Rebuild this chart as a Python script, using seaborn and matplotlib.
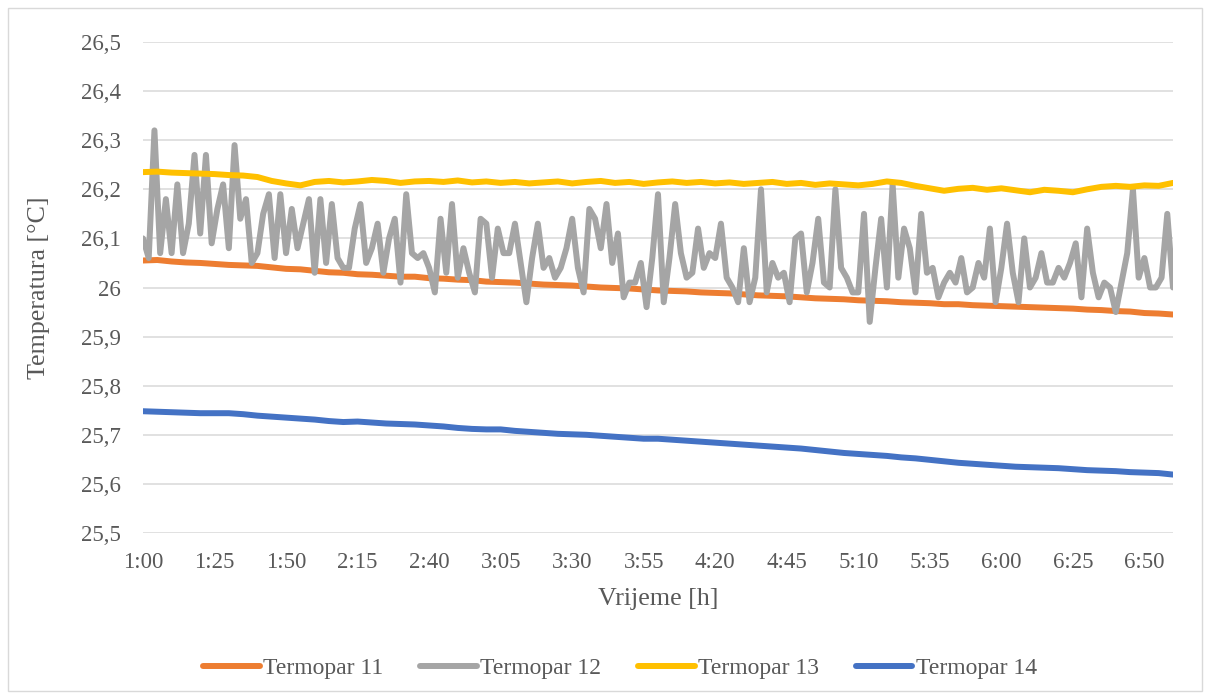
import numpy as np
import pandas as pd
import matplotlib
matplotlib.use("Agg")
import matplotlib.pyplot as plt
import matplotlib.patches as patches
import seaborn as sns

# vrijeme u minutama od 1:00
t_gray = np.arange(0, 361, 2)
t_smooth = np.arange(0, 361, 5)

termopar_11 = [
    26.055, 26.056, 26.053, 26.051, 26.050, 26.048, 26.046, 26.045, 26.044, 26.041, 26.038, 26.037,
    26.034, 26.031, 26.030, 26.027, 26.026, 26.024, 26.022, 26.022, 26.019, 26.018, 26.016, 26.015,
    26.012, 26.011, 26.010, 26.008, 26.006, 26.005, 26.004, 26.002, 26.000, 25.999, 25.998, 25.996,
    25.994, 25.993, 25.992, 25.990, 25.989, 25.988, 25.986, 25.984, 25.983, 25.982, 25.980, 25.978,
    25.977, 25.976, 25.974, 25.973, 25.972, 25.970, 25.969, 25.968, 25.966, 25.966, 25.964, 25.963,
    25.962, 25.961, 25.960, 25.959, 25.958, 25.957, 25.955, 25.954, 25.952, 25.951, 25.948, 25.947,
    25.945,
]

termopar_12 = [
    26.10, 26.06, 26.32, 26.07, 26.18, 26.07, 26.21, 26.07, 26.13, 26.27, 26.11, 26.27,
    26.09, 26.16, 26.21, 26.08, 26.29, 26.14, 26.18, 26.05, 26.07, 26.15, 26.19, 26.06,
    26.19, 26.07, 26.16, 26.08, 26.13, 26.18, 26.03, 26.18, 26.05, 26.17, 26.06, 26.04,
    26.04, 26.12, 26.17, 26.05, 26.08, 26.13, 26.03, 26.10, 26.14, 26.01, 26.19, 26.07,
    26.06, 26.07, 26.04, 25.99, 26.14, 26.03, 26.17, 26.02, 26.08, 26.03, 25.99, 26.14,
    26.13, 26.02, 26.12, 26.07, 26.07, 26.13, 26.05, 25.97, 26.06, 26.13, 26.04, 26.06,
    26.02, 26.04, 26.08, 26.14, 26.04, 25.99, 26.16, 26.14, 26.08, 26.17, 26.05, 26.11,
    25.98, 26.01, 26.01, 26.05, 25.96, 26.06, 26.19, 25.97, 26.06, 26.17, 26.07, 26.02,
    26.03, 26.12, 26.04, 26.07, 26.06, 26.13, 26.02, 26.00, 25.97, 26.08, 25.97, 26.02,
    26.20, 25.99, 26.05, 26.02, 26.03, 25.97, 26.10, 26.11, 25.99, 26.05, 26.14, 26.01,
    26.00, 26.20, 26.04, 26.02, 25.99, 25.99, 26.15, 25.93, 26.04, 26.14, 26.00, 26.21,
    26.02, 26.12, 26.08, 25.99, 26.15, 26.03, 26.04, 25.98, 26.01, 26.03, 26.01, 26.06,
    25.99, 26.00, 26.05, 26.02, 26.12, 25.97, 26.04, 26.13, 26.03, 25.97, 26.10, 26.00,
    26.02, 26.07, 26.01, 26.01, 26.04, 26.02, 26.05, 26.09, 25.98, 26.12, 26.03, 25.98,
    26.01, 26.00, 25.95, 26.01, 26.07, 26.20, 26.02, 26.06, 26.00, 26.00, 26.02, 26.15,
    26.00,
]

termopar_13 = [
    26.235, 26.236, 26.234, 26.233, 26.232, 26.231, 26.229, 26.228, 26.225, 26.217, 26.212, 26.208,
    26.215, 26.217, 26.214, 26.216, 26.219, 26.217, 26.213, 26.216, 26.217, 26.215, 26.218, 26.214,
    26.216, 26.213, 26.215, 26.212, 26.214, 26.216, 26.212, 26.215, 26.217, 26.213, 26.215, 26.211,
    26.214, 26.216, 26.213, 26.215, 26.212, 26.214, 26.211, 26.213, 26.215, 26.211, 26.213, 26.209,
    26.212, 26.210, 26.208, 26.211, 26.216, 26.213, 26.207, 26.202, 26.197, 26.201, 26.203, 26.199,
    26.202, 26.198, 26.194, 26.199, 26.197, 26.194, 26.200, 26.205, 26.207, 26.205, 26.208, 26.207,
    26.213,
]

termopar_14 = [
    25.748, 25.747, 25.746, 25.745, 25.744, 25.744, 25.744, 25.742, 25.739, 25.737, 25.735, 25.733,
    25.731, 25.728, 25.726, 25.727, 25.725, 25.723, 25.722, 25.721, 25.719, 25.717, 25.714, 25.712,
    25.711, 25.711, 25.708, 25.706, 25.704, 25.702, 25.701, 25.700, 25.698, 25.696, 25.694, 25.692,
    25.692, 25.690, 25.688, 25.686, 25.684, 25.682, 25.680, 25.678, 25.676, 25.674, 25.672, 25.669,
    25.666, 25.663, 25.661, 25.659, 25.657, 25.654, 25.652, 25.649, 25.646, 25.643, 25.641, 25.639,
    25.637, 25.635, 25.634, 25.633, 25.632, 25.630, 25.628, 25.627, 25.626, 25.624, 25.623, 25.622,
    25.619,
]

x_ticks = np.arange(0, 351, 25)
x_tick_labels = ["1:00", "1:25", "1:50", "2:15", "2:40", "3:05", "3:30", "3:55",
                 "4:20", "4:45", "5:10", "5:35", "6:00", "6:25", "6:50"]
y_ticks = np.arange(25.5, 26.51, 0.1)
y_tick_labels = ["25,5", "25,6", "25,7", "25,8", "25,9", "26",
                 "26,1", "26,2", "26,3", "26,4", "26,5"]

series = [
    ("Termopar 11", t_smooth, termopar_11, "#ED7D31"),
    ("Termopar 12", t_gray, termopar_12, "#A5A5A5"),
    ("Termopar 13", t_smooth, termopar_13, "#FFC000"),
    ("Termopar 14", t_smooth, termopar_14, "#4472C4"),
]

sns.set_theme(style="white")
plt.rcParams['font.family'] = ['Liberation Serif', 'DejaVu Serif']
text_col = "#595959"
grid_col = "#D9D9D9"

fig = plt.figure(figsize=(12.1, 6.99), dpi=100)
ax = fig.add_axes([143 / 1210, 1 - 533 / 699, 1030 / 1210, 491 / 699])

for name, t, vals, col in series:
    df = pd.DataFrame({"t": t, "v": vals})
    sns.lineplot(data=df, x="t", y="v", ax=ax, color=col, linewidth=4.3,
                 label=name, solid_capstyle="round", solid_joinstyle="round")

ax.set_xlim(0, 360)
ax.set_ylim(25.5, 26.5)
ax.set_xticks(x_ticks)
ax.set_xticklabels(x_tick_labels)
ax.set_yticks(y_ticks)
ax.set_yticklabels(y_tick_labels)
ax.tick_params(axis="both", length=0, labelsize=16.5, colors=text_col)
ax.tick_params(axis="y", pad=16)
ax.tick_params(axis="x", pad=14)
ax.yaxis.grid(True, color=grid_col, linewidth=1.1)
ax.set_axisbelow(True)
for s in ax.spines.values():
    s.set_visible(False)

ax.set_xlabel("Vrijeme [h]", fontsize=18.7, color=text_col)
ax.set_ylabel("Temperatura [°C]", fontsize=18.7, color=text_col)
ax.xaxis.set_label_coords(0.5, -0.112)
ax.yaxis.set_label_coords(-0.09, 0.5)

leg = ax.legend(loc="center", bbox_to_anchor=(620 / 1210, 31 / 699), bbox_transform=fig.transFigure,
                ncol=4, frameon=False, fontsize=17, handlelength=2.4, handletextpad=0.15,
                columnspacing=1.55, labelcolor=text_col)
for h in leg.get_lines():
    h.set_linewidth(4.3)

fig.patches.append(patches.Rectangle((8 / 1210, 8 / 699), 1194 / 1210, 683 / 699,
                                     transform=fig.transFigure, fill=False,
                                     edgecolor=grid_col, linewidth=1))

fig.savefig("out.png", dpi=100)
